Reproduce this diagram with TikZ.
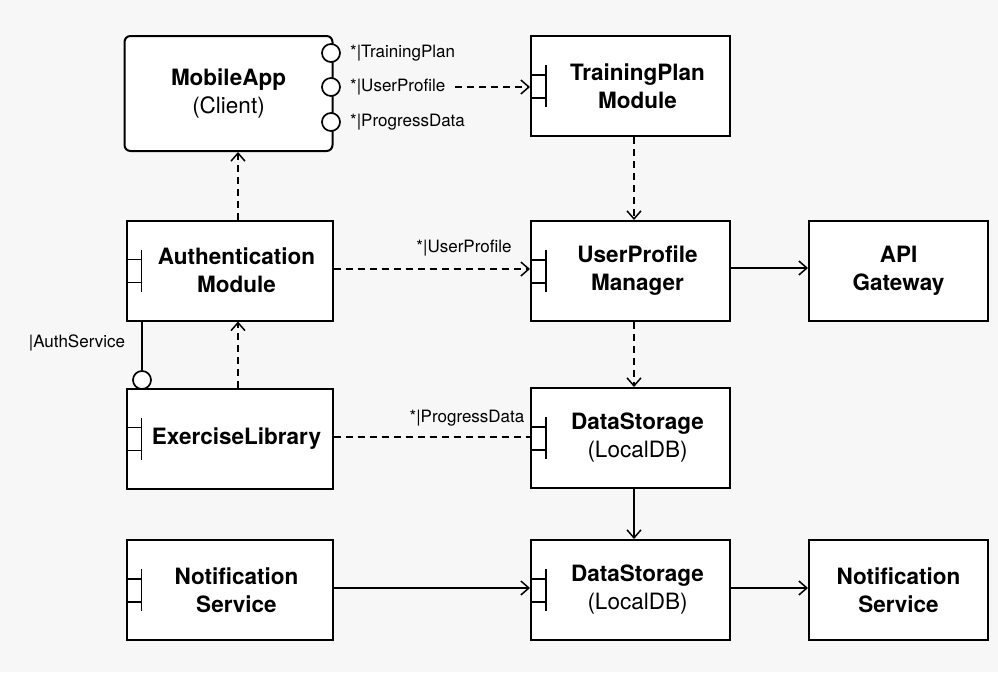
\documentclass[tikz,border=0pt]{standalone}
\usepackage{fontspec}
\setmainfont{TeX Gyre Heros}
\usetikzlibrary{arrows.meta}
\definecolor{bgpaper}{HTML}{F7F7F7}
\begin{document}
\begin{tikzpicture}[x=1pt,y=-1pt,
  box/.style={draw, line width=2pt, fill=white, minimum height=100pt, align=center,
              font=\fontsize{22.5}{28}\selectfont, inner sep=0pt},
  colA/.style={box, minimum width=206pt},
  colB/.style={box, minimum width=199pt},
  colC/.style={box, minimum width=179pt},
  conn/.style={line width=1.5pt},
  dep/.style={conn, dash pattern=on 7pt off 5pt},
  tip/.style={-{Straight Barb[length=8pt,width=14pt,line width=1.5pt]}},
  lbl/.style={font=\fontsize{17}{20}\selectfont, inner sep=0pt},
  lolli/.style={draw, line width=1.7pt, fill=white, circle, minimum size=18pt, inner sep=0pt}
]
\fill[bgpaper] (0,0) rectangle (998,672);
\useasboundingbox (0,0) rectangle (998,672);

% component boxes
\node[box, rounded corners=6pt, minimum width=208pt, minimum height=115pt] (app) at (228.5,93.5)
  {\textbf{MobileApp}\\(Client)};
\node[colB] (tp)   at (630.5,86)  {\hspace*{14pt}\textbf{TrainingPlan}\\\hspace*{14pt}\textbf{Module}};
\node[colA] (auth) at (229.5,270.5) {\hspace*{14pt}\textbf{Authentication}\\\hspace*{14pt}\textbf{Module}};
\node[colB] (upm)  at (630.5,271) {\hspace*{14pt}\textbf{UserProfile}\\\hspace*{14pt}\textbf{Manager}};
\node[colC] (api)  at (898.5,271) {\textbf{API}\\\textbf{Gateway}};
\node[colA] (ex)   at (229.5,438.5) {\hspace*{14pt}\textbf{ExerciseLibrary}};
\node[colB] (ds1)  at (630.5,438) {\hspace*{14pt}\textbf{DataStorage}\\\hspace*{14pt}(LocalDB)};
\node[colA] (ns1)  at (229.5,590) {\hspace*{14pt}\textbf{Notification}\\\hspace*{14pt}\textbf{Service}};
\node[colB] (ds2)  at (630.5,590) {\hspace*{14pt}\textbf{DataStorage}\\\hspace*{14pt}(LocalDB)};
\node[colC] (ns2)  at (898.5,590) {\textbf{Notification}\\\textbf{Service}};

% component icons on the left edge
\foreach \n in {tp,auth,upm,ex,ds1,ns1,ds2}{
  \draw[line width=1.8pt] ([xshift=16pt,yshift=21pt]\n.west) -- ([xshift=16pt,yshift=-21pt]\n.west);
  \draw[line width=1.8pt] ([yshift=11pt]\n.west) -- ([xshift=16pt,yshift=11pt]\n.west);
  \draw[line width=1.8pt] ([yshift=-12pt]\n.west) -- ([xshift=16pt,yshift=-12pt]\n.west);
}

% provided interfaces of the client
\node[lolli] (ltp) at (331,53)  {};
\node[lolli] (lup) at (331,87)  {};
\node[lolli] (lpd) at (331,122) {};
\node[lbl, anchor=west] (ttp) at (350,53)  {*|TrainingPlan};
\node[lbl, anchor=west] (tup) at (350,87)  {*|UserProfile};
\node[lbl, anchor=west] (tpd) at (350,122) {*|ProgressData};

% AuthService interface
\node[lolli] (las) at (142,380) {};
\draw[conn] (auth.south -| las) -- (las.north);
\node[lbl] (tas) at (77,343) {|AuthService};

% dependencies
\coordinate (upfrom) at (455,87);
\draw[dep, tip] (upfrom) -- (upfrom -| tp.west);
\draw[dep, tip] (auth.north -| 238,0) -- (app.south -| 238,0);
\draw[dep, tip] (ex.north -| 238,0) -- (auth.south -| 238,0);
\draw[dep, tip] (tp.south -| 634,0) -- (upm.north -| 634,0);
\draw[dep, tip] (upm.south -| 634,0) -- (ds1.north -| 634,0);
\draw[dep, tip] (auth.east |- 0,269) -- (upm.west |- 0,269);
\node[lbl] (tup2) at (464,248) {*|UserProfile};
\draw[dep] (ex.east |- 0,437) -- (ds1.west |- 0,437);
\node[lbl] (tpd2) at (467,418) {*|ProgressData};

% usage links
\draw[conn, tip] (upm.east |- 0,268) -- (api.west |- 0,268);
\draw[conn, tip] (ds1.south -| 634,0) -- (ds2.north -| 634,0);
\draw[conn, tip] (ns1.east |- 0,588) -- (ds2.west |- 0,588);
\draw[conn, tip] (ds2.east |- 0,588) -- (ns2.west |- 0,588);
\end{tikzpicture}
\end{document}
